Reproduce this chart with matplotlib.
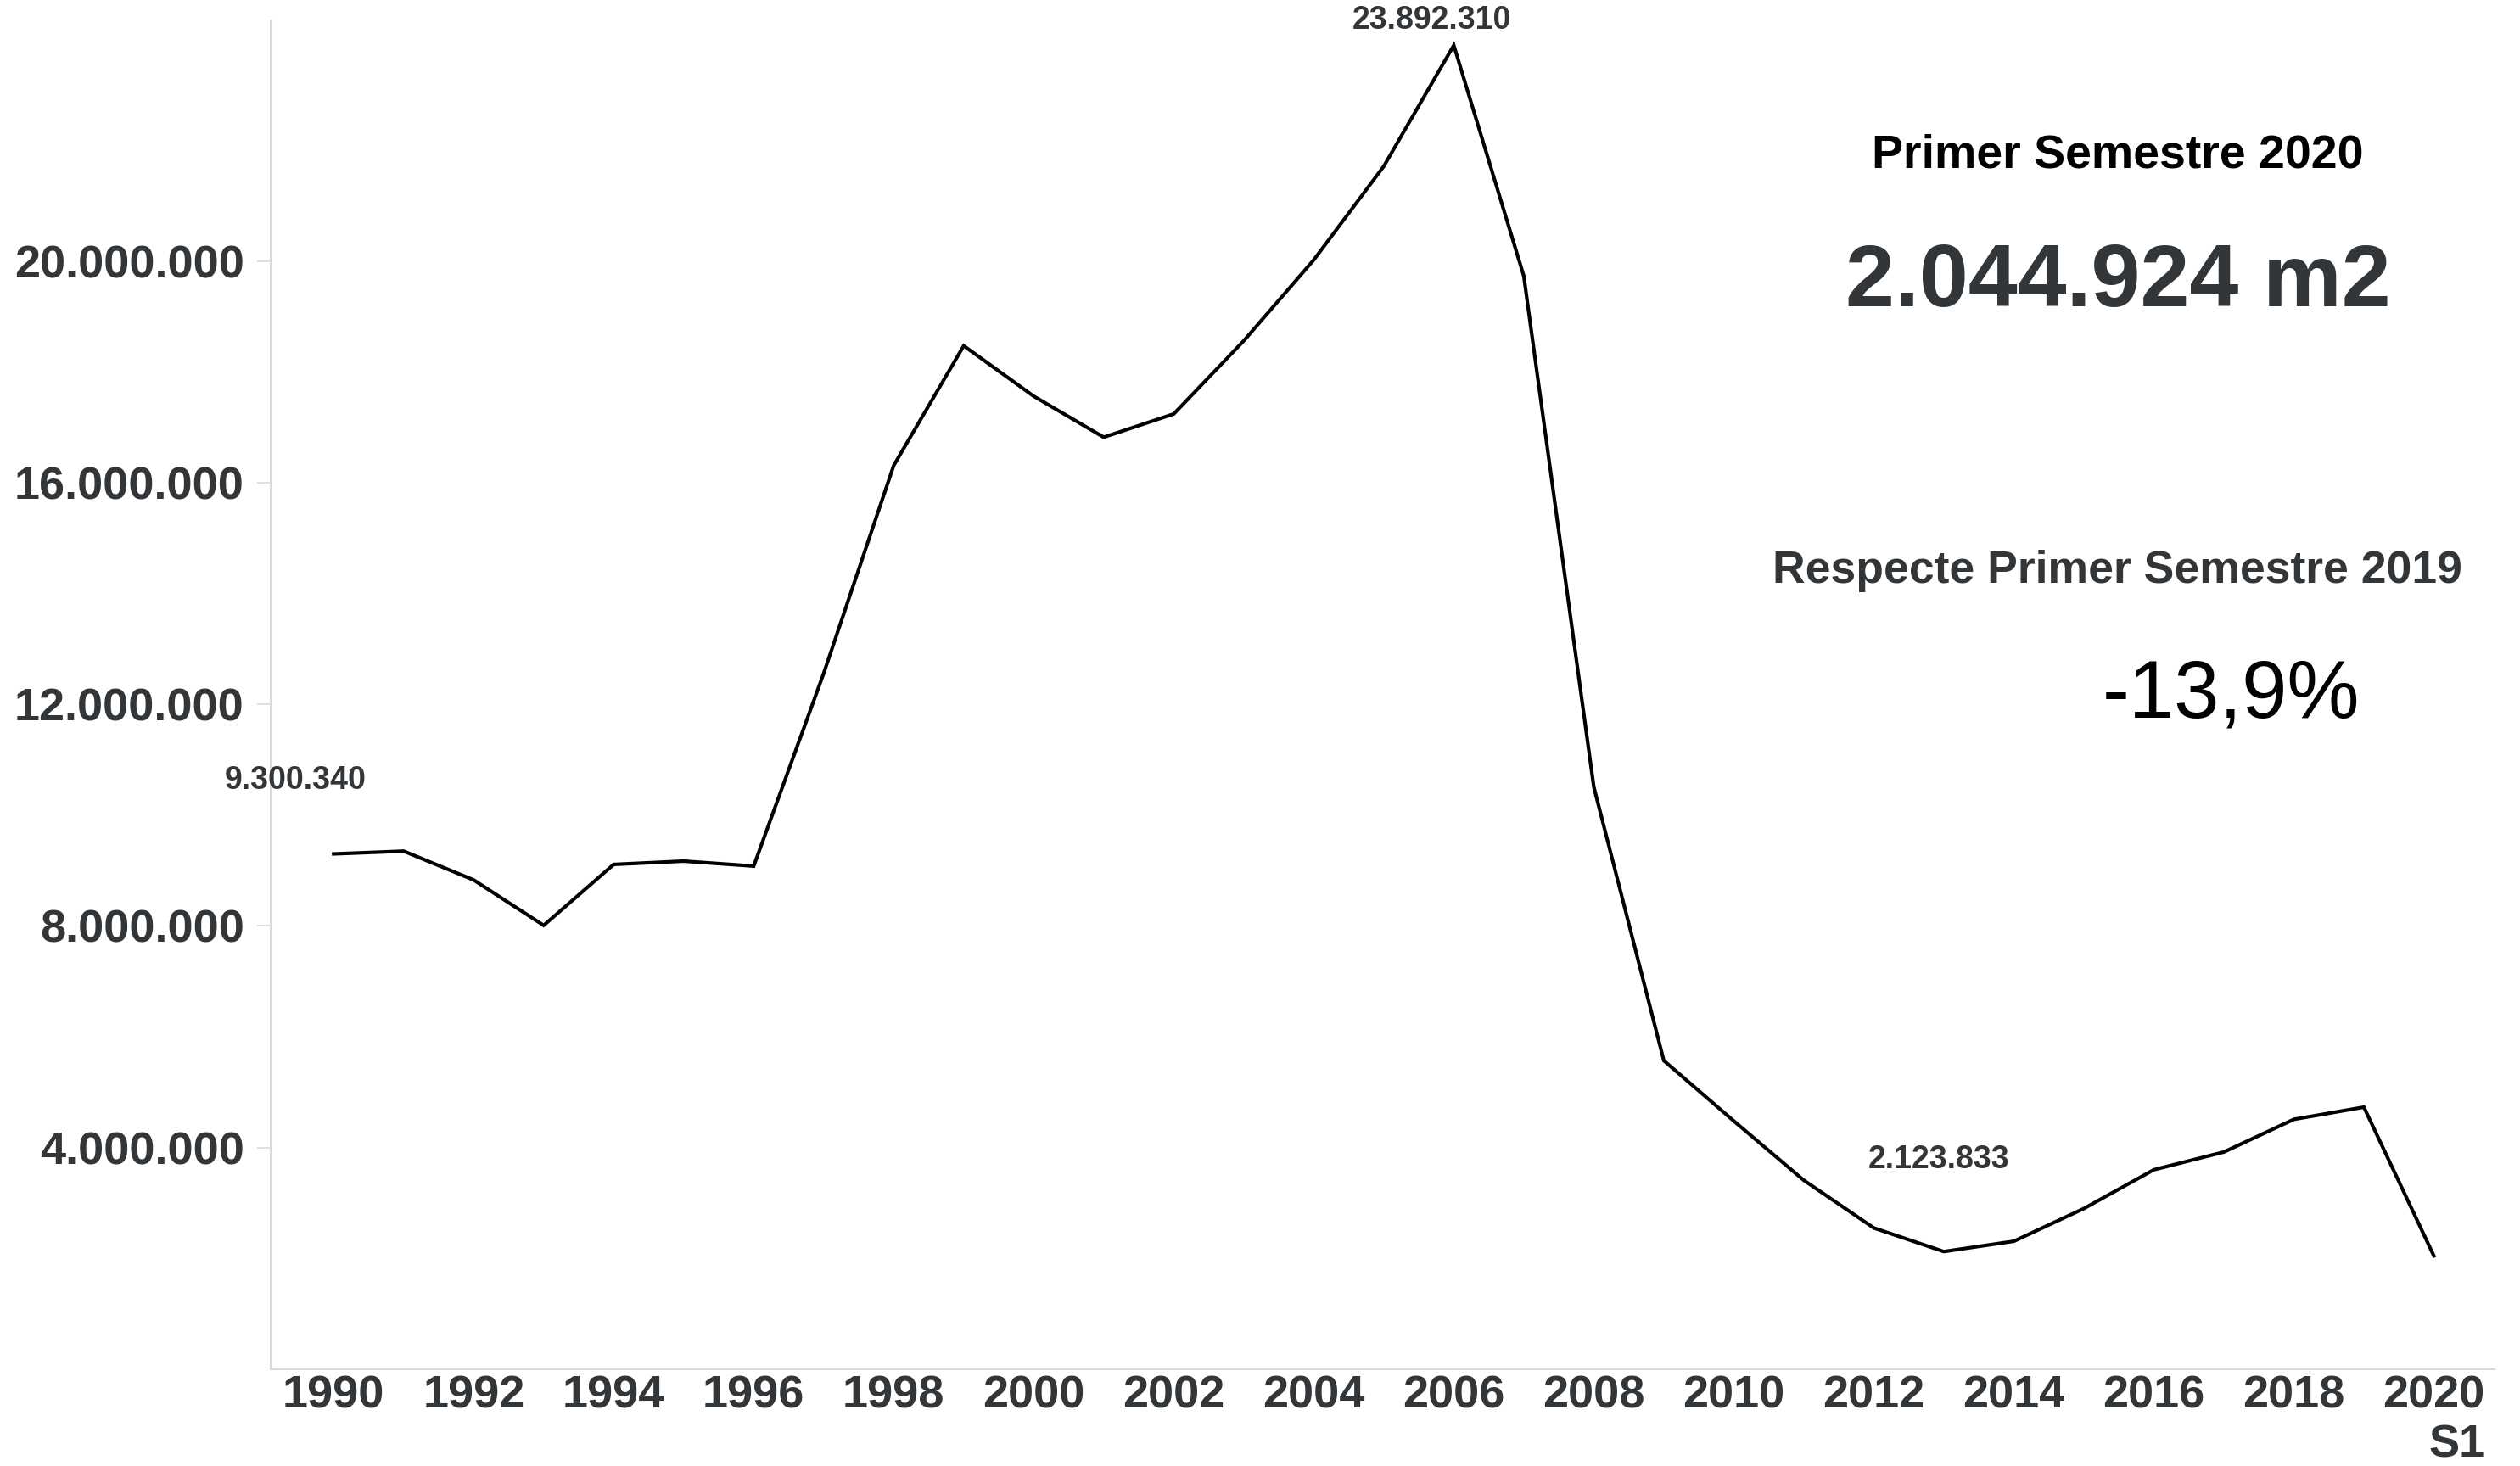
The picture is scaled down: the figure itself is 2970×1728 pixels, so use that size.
import matplotlib
matplotlib.use("Agg")
import matplotlib.pyplot as plt
from matplotlib.ticker import FuncFormatter

plt.rcParams["font.family"] = ["Liberation Sans", "DejaVu Sans"]

# superficie (m2) per any; 2020 = primer semestre
years = list(range(1990, 2021))
surface = [
    9300340, 9350000, 8830000, 8010000, 9110000, 9170000, 9080000, 12560000,
    16310000, 18470000, 17560000, 16820000, 17240000, 18560000, 20020000,
    21710000, 23892310, 19730000, 10510000, 5570000, 4480000, 3410000,
    2550000, 2123833, 2310000, 2900000, 3600000, 3920000, 4510000, 4730000,
    2044924,
]
yticks = [4000000, 8000000, 12000000, 16000000, 20000000]
xticks = list(range(1990, 2021, 2))
xtick_labels = [str(y) for y in xticks[:-1]] + ["2020\nS1"]

# punts etiquetats: (any, desplaçament en píxels)
labelled = {1990: (-45, 87), 2006: (-26, 29), 2013: (-6, 108)}

title_period = "Primer Semestre 2020"
headline = "2.044.924 m2"
compare_text = "Respecte Primer Semestre 2019"
change_text = "-13,9%"

dark = "#333639"
light = "#d9d9d9"


def dotted(v):
    return f"{int(round(v)):,}".replace(",", ".")


fig = plt.figure(figsize=(29.7, 17.28), dpi=100)
ax = fig.add_axes([0.1074, 0.066, 0.8826, 0.920])

ax.plot(years, surface, color="black", linewidth=3.0, solid_joinstyle="miter")

ax.set_xlim(1989.1, 2020.87)
ax.set_ylim(0, 24.34e6)

ax.set_yticks(yticks)
ax.yaxis.set_major_formatter(FuncFormatter(lambda v, _: dotted(v)))
ax.set_xticks(xticks)
ax.set_xticklabels(xtick_labels, multialignment="right")

ax.tick_params(axis="y", length=11.5, width=1.2, color=light, pad=11,
               labelsize=39, labelcolor=dark)
ax.tick_params(axis="x", length=0, pad=5, labelsize=39, labelcolor=dark)
for lbl in ax.get_xticklabels() + ax.get_yticklabels():
    lbl.set_fontweight("bold")

for side in ["top", "right"]:
    ax.spines[side].set_visible(False)
for side in ["left", "bottom"]:
    ax.spines[side].set_color(light)
    ax.spines[side].set_linewidth(1.5)

for yr, (dx, dy) in labelled.items():
    val = surface[years.index(yr)]
    ax.annotate(dotted(val), (yr, val), xytext=(dx, dy),
                textcoords="offset pixels", ha="center", va="center",
                fontsize=27, fontweight="bold", color=dark)

# bloc de text a la dreta
W, H = 2970, 1728
fig.text(2496 / W, 1 - 184 / H, title_period, ha="center", va="center",
         fontsize=40, fontweight="bold", color="black")
fig.text(2496 / W, 1 - 335 / H, headline, ha="center", va="center",
         fontsize=75, fontweight="bold", color=dark)
fig.text(2495 / W, 1 - 673 / H, compare_text, ha="center", va="center",
         fontsize=38.5, fontweight="bold", color=dark)
fig.text(2629 / W, 1 - 821 / H, change_text, ha="center", va="center",
         fontsize=69, color="black")

fig.savefig("out.png", dpi=100, facecolor="white")
